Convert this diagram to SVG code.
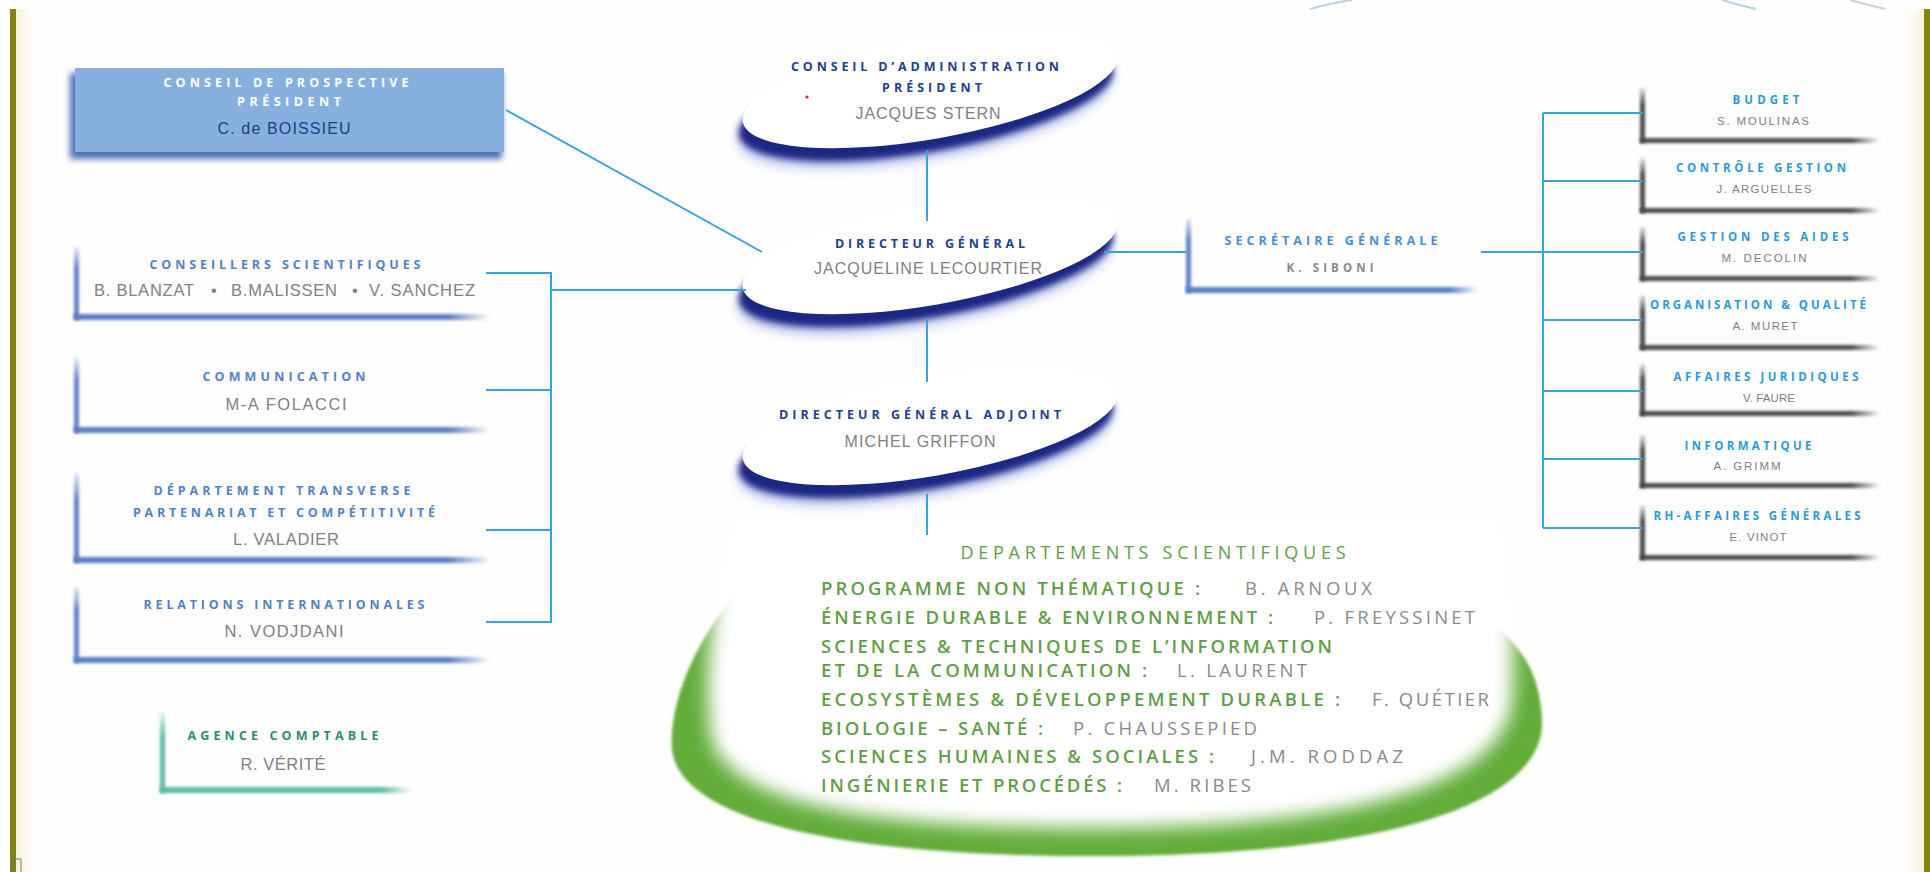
<svg xmlns="http://www.w3.org/2000/svg" width="1930" height="872" viewBox="0 0 1930 872">
<defs>
<style>
.t{font-family:"Open Sans","Liberation Sans",sans-serif;font-weight:700;text-anchor:middle}
.lt{fill:#5282c6;font-size:12.5px}
.wt{fill:#ffffff;font-size:12.5px}
.nv{fill:#233f8f;font-size:12.5px}
.rt{fill:#2b9ad8;font-size:11.5px}
.st{fill:#4a8fd0;font-size:12.5px}
.at{fill:#2f8a72;font-size:12.5px}
.nm{font-family:"Liberation Sans","DejaVu Sans",sans-serif;fill:#808080;text-anchor:middle}
.ln{font-size:16.5px}
.rn{font-size:11.5px}
.dl{font-family:"Open Sans","Liberation Sans",sans-serif;font-weight:600;fill:#5f9e45;font-size:18.5px}
.dn{font-family:"Open Sans","Liberation Sans",sans-serif;fill:#8a8a8a;font-size:18.5px}
.dh{font-family:"Open Sans","Liberation Sans",sans-serif;fill:#5f9e45;font-size:18px;text-anchor:middle}
.conn{stroke:#36a3d9;stroke-width:2;fill:none}
</style>
<filter id="b2" filterUnits="userSpaceOnUse" x="-300" y="-300" width="2500" height="1500"><feGaussianBlur stdDeviation="1.6"/></filter>
<filter id="b3" filterUnits="userSpaceOnUse" x="-300" y="-300" width="2500" height="1500"><feGaussianBlur stdDeviation="3"/></filter>
<filter id="b6" filterUnits="userSpaceOnUse" x="-300" y="-300" width="2500" height="1500"><feGaussianBlur stdDeviation="6"/></filter>
<filter id="b8" filterUnits="userSpaceOnUse" x="-300" y="-300" width="2500" height="1500"><feGaussianBlur stdDeviation="9"/></filter>
<linearGradient id="vB" x1="0" y1="0" x2="0" y2="1"><stop offset="0" stop-color="#5d81c6" stop-opacity="0.15"/><stop offset="0.3" stop-color="#5d81c6"/><stop offset="1" stop-color="#5d81c6"/></linearGradient>
<linearGradient id="hB" x1="0" y1="0" x2="1" y2="0"><stop offset="0" stop-color="#5a7ec4"/><stop offset="0.9" stop-color="#5a7ec4"/><stop offset="1" stop-color="#5a7ec4" stop-opacity="0"/></linearGradient>
<linearGradient id="vG" x1="0" y1="0" x2="0" y2="1"><stop offset="0" stop-color="#4a4a4a" stop-opacity="0.15"/><stop offset="0.3" stop-color="#4a4a4a"/><stop offset="1" stop-color="#4a4a4a"/></linearGradient>
<linearGradient id="hG" x1="0" y1="0" x2="1" y2="0"><stop offset="0" stop-color="#4a4a4a"/><stop offset="0.88" stop-color="#4a4a4a"/><stop offset="1" stop-color="#4a4a4a" stop-opacity="0"/></linearGradient>
<linearGradient id="vT" x1="0" y1="0" x2="0" y2="1"><stop offset="0" stop-color="#5fbaa6" stop-opacity="0.15"/><stop offset="0.3" stop-color="#5fbaa6"/><stop offset="1" stop-color="#5fbaa6"/></linearGradient>
<linearGradient id="hT" x1="0" y1="0" x2="1" y2="0"><stop offset="0" stop-color="#5fbaa6"/><stop offset="0.88" stop-color="#5fbaa6"/><stop offset="1" stop-color="#5fbaa6" stop-opacity="0"/></linearGradient>
<linearGradient id="glowL" x1="0" y1="0" x2="1" y2="0"><stop offset="0" stop-color="#f6f2d6"/><stop offset="1" stop-color="#ffffff" stop-opacity="0"/></linearGradient>
<linearGradient id="glowR" x1="1" y1="0" x2="0" y2="0"><stop offset="0" stop-color="#f6f2d6"/><stop offset="1" stop-color="#ffffff" stop-opacity="0"/></linearGradient>
<ellipse id="ov" cx="0" cy="0" rx="190" ry="50"/>
</defs>

<rect x="0" y="0" width="1930" height="872" fill="#fefefe"/>

<g id="frame">
<rect x="16" y="9" width="26" height="863" fill="url(#glowL)"/>
<rect x="1898" y="9" width="26" height="863" fill="url(#glowR)"/>
<rect x="10" y="9" width="6" height="863" fill="#838313"/>
<rect x="1924" y="9" width="6" height="863" fill="#838313"/>
<path d="M1310 9 Q1330 3 1352 0" stroke="#b9d0de" stroke-width="2" fill="none"/>
<path d="M1722 0 Q1738 5 1756 9" stroke="#b9d0de" stroke-width="2" fill="none"/>
<path d="M1850 0 Q1868 5 1885 9" stroke="#ccd2da" stroke-width="2" fill="none"/>
<rect x="11" y="859" width="10" height="14" fill="none" stroke="#7a7a7a" stroke-width="1"/>
</g>

<g id="n-departements">
<path d="M745 585 C700 630 668 700 672 750 C680 815 820 858 1110 856 C1400 854 1545 800 1542 720 C1540 680 1528 655 1500 630 Z" fill="#63ad3a" filter="url(#b2)"/>
<path d="M735 520 C712 600 702 680 712 740 C730 800 860 830 1110 828 C1370 826 1505 780 1512 700 C1516 640 1510 590 1500 520 Z" fill="#ffffff" filter="url(#b8)"/>
<text class="dh" x="1153" y="559" textLength="385">DEPARTEMENTS SCIENTIFIQUES</text>
<text class="dl" x="821" y="595" textLength="379">PROGRAMME NON THÉMATIQUE :</text>
<text class="dn" x="1245" y="595" textLength="127">B. ARNOUX</text>
<text class="dl" x="821" y="624" textLength="452">ÉNERGIE DURABLE &amp; ENVIRONNEMENT :</text>
<text class="dn" x="1314" y="624" textLength="161">P. FREYSSINET</text>
<text class="dl" x="821" y="653" textLength="511">SCIENCES &amp; TECHNIQUES DE L’INFORMATION</text>
<text class="dl" x="821" y="677" textLength="326">ET DE LA COMMUNICATION :</text>
<text class="dn" x="1177" y="677" textLength="130">L. LAURENT</text>
<text class="dl" x="821" y="706" textLength="519">ECOSYSTÈMES &amp; DÉVELOPPEMENT DURABLE :</text>
<text class="dn" x="1372" y="706" textLength="117">F. QUÉTIER</text>
<text class="dl" x="821" y="735" textLength="222">BIOLOGIE – SANTÉ :</text>
<text class="dn" x="1073" y="735" textLength="184">P. CHAUSSEPIED</text>
<text class="dl" x="821" y="763" textLength="393">SCIENCES HUMAINES &amp; SOCIALES :</text>
<text class="dn" x="1251" y="763" textLength="152">J.M. RODDAZ</text>
<text class="dl" x="821" y="792" textLength="301">INGÉNIERIE ET PROCÉDÉS :</text>
<text class="dn" x="1154" y="792" textLength="97">M. RIBES</text>
</g>

<g id="n-ca">
<use href="#ov" transform="translate(925,109) rotate(-10)" fill="#9aa6e6" opacity="0.7" filter="url(#b6)"/>
<use href="#ov" transform="translate(926,102) rotate(-10)" fill="#1b2883" filter="url(#b3)"/>
<use href="#ov" transform="translate(930,89) rotate(-10)" fill="#ffffff"/>
<text class="t nv" x="925" y="71" textLength="268">CONSEIL D’ADMINISTRATION</text>
<text class="t nv" x="932" y="92" textLength="100">PRÉSIDENT</text>
<text class="nm" x="928" y="119" font-size="16" textLength="145">JACQUES STERN</text>
<circle cx="807" cy="97" r="1.6" fill="#e0203a"/>
</g>

<g id="n-dg">
<use href="#ov" transform="translate(925,275) rotate(-10)" fill="#9aa6e6" opacity="0.7" filter="url(#b6)"/>
<use href="#ov" transform="translate(926,268) rotate(-10)" fill="#1b2883" filter="url(#b3)"/>
<use href="#ov" transform="translate(930,255) rotate(-10)" fill="#ffffff"/>
<text class="t nv" x="930" y="248" textLength="190">DIRECTEUR GÉNÉRAL</text>
<text class="nm" x="928" y="274" font-size="16" textLength="228">JACQUELINE LECOURTIER</text>
</g>

<g id="n-dga">
<use href="#ov" transform="translate(925,446) rotate(-10)" fill="#9aa6e6" opacity="0.7" filter="url(#b6)"/>
<use href="#ov" transform="translate(926,439) rotate(-10)" fill="#1b2883" filter="url(#b3)"/>
<use href="#ov" transform="translate(930,426) rotate(-10)" fill="#ffffff"/>
<text class="t nv" x="920" y="419" textLength="282">DIRECTEUR GÉNÉRAL ADJOINT</text>
<text class="nm" x="920" y="447" font-size="16" textLength="151">MICHEL GRIFFON</text>
</g>

<g id="n-prospective">
<rect x="70" y="73" width="432" height="86" fill="#4f6fb5" filter="url(#b3)"/>
<rect x="75" y="68" width="429" height="84" fill="#88b0de"/>
<text class="t wt" x="286" y="87" textLength="245">CONSEIL DE PROSPECTIVE</text>
<text class="t wt" x="289" y="106" textLength="104">PRÉSIDENT</text>
<text class="nm" x="284" y="134" font-size="16" style="fill:#1c3f86" textLength="133">C. de BOISSIEU</text>
</g>

<g id="n-conseillers">
<rect x="74" y="247" width="5" height="73" fill="url(#vB)" filter="url(#b2)"/>
<rect x="74" y="314" width="416" height="6" fill="url(#hB)" filter="url(#b2)"/>
<text class="t lt" x="285" y="269" textLength="271">CONSEILLERS SCIENTIFIQUES</text>
<text class="nm ln" x="144" y="296" textLength="100">B. BLANZAT</text>
<text class="nm ln" x="214" y="296">•</text>
<text class="nm ln" x="284" y="296" textLength="106">B.MALISSEN</text>
<text class="nm ln" x="355" y="296">•</text>
<text class="nm ln" x="422" y="296" textLength="106">V. SANCHEZ</text>
</g>

<g id="n-communication">
<rect x="74" y="358" width="5" height="75" fill="url(#vB)" filter="url(#b2)"/>
<rect x="74" y="427" width="416" height="6" fill="url(#hB)" filter="url(#b2)"/>
<text class="t lt" x="284" y="381" textLength="163">COMMUNICATION</text>
<text class="nm ln" x="286" y="410" textLength="121">M-A FOLACCI</text>
</g>

<g id="n-departement">
<rect x="74" y="473" width="5" height="90" fill="url(#vB)" filter="url(#b2)"/>
<rect x="74" y="557" width="416" height="6" fill="url(#hB)" filter="url(#b2)"/>
<text class="t lt" x="282" y="495" textLength="257">DÉPARTEMENT TRANSVERSE</text>
<text class="t lt" x="284" y="517" textLength="302">PARTENARIAT ET COMPÉTITIVITÉ</text>
<text class="nm ln" x="286" y="545" textLength="106">L. VALADIER</text>
</g>

<g id="n-relations">
<rect x="74" y="587" width="5" height="76" fill="url(#vB)" filter="url(#b2)"/>
<rect x="74" y="657" width="416" height="6" fill="url(#hB)" filter="url(#b2)"/>
<text class="t lt" x="284" y="609" textLength="281">RELATIONS INTERNATIONALES</text>
<text class="nm ln" x="284" y="637" textLength="119">N. VODJDANI</text>
</g>

<g id="n-agence">
<rect x="160" y="712" width="5" height="81" fill="url(#vT)" filter="url(#b2)"/>
<rect x="160" y="787" width="252" height="6" fill="url(#hT)" filter="url(#b2)"/>
<text class="t at" x="283" y="740" textLength="191">AGENCE COMPTABLE</text>
<text class="nm ln" x="283" y="770" textLength="85">R. VÉRITÉ</text>
</g>

<g id="n-sg">
<rect x="1186" y="218" width="5" height="75" fill="url(#vB)" filter="url(#b2)"/>
<rect x="1186" y="287" width="292" height="6" fill="url(#hB)" filter="url(#b2)"/>
<text class="t st" x="1331" y="245" textLength="213">SECRÉTAIRE GÉNÉRALE</text>
<text class="t" x="1330" y="272" font-size="11.5" fill="#8a8a8a" textLength="87">K. SIBONI</text>
</g>

<g id="n-budget">
<rect x="1640" y="88" width="5" height="55" fill="url(#vG)" filter="url(#b2)"/>
<rect x="1640" y="138" width="240" height="5" fill="url(#hG)" filter="url(#b2)"/>
<text class="t rt" x="1766" y="104" textLength="67">BUDGET</text>
<text class="nm rn" x="1763" y="125" textLength="92">S. MOULINAS</text>
</g>
<g id="n-controle">
<rect x="1640" y="158" width="5" height="55" fill="url(#vG)" filter="url(#b2)"/>
<rect x="1640" y="208" width="240" height="5" fill="url(#hG)" filter="url(#b2)"/>
<text class="t rt" x="1761" y="172" textLength="170">CONTRÔLE GESTION</text>
<text class="nm rn" x="1764" y="193" textLength="95">J. ARGUELLES</text>
</g>
<g id="n-gestion">
<rect x="1640" y="227" width="5" height="54" fill="url(#vG)" filter="url(#b2)"/>
<rect x="1640" y="276" width="240" height="5" fill="url(#hG)" filter="url(#b2)"/>
<text class="t rt" x="1763" y="241" textLength="171">GESTION DES AIDES</text>
<text class="nm rn" x="1764" y="262" textLength="85">M. DECOLIN</text>
</g>
<g id="n-organisation">
<rect x="1640" y="295" width="5" height="55" fill="url(#vG)" filter="url(#b2)"/>
<rect x="1640" y="345" width="240" height="5" fill="url(#hG)" filter="url(#b2)"/>
<text class="t rt" x="1758" y="309" textLength="216">ORGANISATION &amp; QUALITÉ</text>
<text class="nm rn" x="1765" y="330" textLength="65">A. MURET</text>
</g>
<g id="n-juridiques">
<rect x="1640" y="364" width="5" height="52" fill="url(#vG)" filter="url(#b2)"/>
<rect x="1640" y="411" width="240" height="5" fill="url(#hG)" filter="url(#b2)"/>
<text class="t rt" x="1766" y="381" textLength="185">AFFAIRES JURIDIQUES</text>
<text class="nm rn" x="1769" y="402" textLength="52">V. FAURE</text>
</g>
<g id="n-informatique">
<rect x="1640" y="435" width="5" height="53" fill="url(#vG)" filter="url(#b2)"/>
<rect x="1640" y="483" width="240" height="5" fill="url(#hG)" filter="url(#b2)"/>
<text class="t rt" x="1748" y="450" textLength="127">INFORMATIQUE</text>
<text class="nm rn" x="1747" y="470" textLength="67">A. GRIMM</text>
</g>
<g id="n-rh">
<rect x="1640" y="505" width="5" height="55" fill="url(#vG)" filter="url(#b2)"/>
<rect x="1640" y="555" width="240" height="5" fill="url(#hG)" filter="url(#b2)"/>
<text class="t rt" x="1757" y="520" textLength="207">RH-AFFAIRES GÉNÉRALES</text>
<text class="nm rn" x="1758" y="541" textLength="57">E. VINOT</text>
</g>

<g id="connectors">
<line class="conn" x1="506" y1="110" x2="762" y2="252"/>
<polyline class="conn" points="486,273 551,273 551,622 486,622"/>
<line class="conn" x1="486" y1="390" x2="551" y2="390"/>
<line class="conn" x1="486" y1="530" x2="551" y2="530"/>
<line class="conn" x1="551" y1="290" x2="746" y2="290"/>
<line class="conn" x1="927" y1="150" x2="927" y2="221"/>
<line class="conn" x1="927" y1="318" x2="927" y2="382"/>
<line class="conn" x1="927" y1="494" x2="927" y2="535"/>
<line class="conn" x1="1104" y1="252" x2="1187" y2="252"/>
<line class="conn" x1="1481" y1="252" x2="1643" y2="252"/>
<line class="conn" x1="1543" y1="113" x2="1543" y2="528"/>
<line class="conn" x1="1543" y1="113" x2="1643" y2="113"/>
<line class="conn" x1="1543" y1="181" x2="1643" y2="181"/>
<line class="conn" x1="1543" y1="320" x2="1643" y2="320"/>
<line class="conn" x1="1543" y1="391" x2="1643" y2="391"/>
<line class="conn" x1="1543" y1="459" x2="1643" y2="459"/>
<line class="conn" x1="1543" y1="528" x2="1643" y2="528"/>
</g>
</svg>
